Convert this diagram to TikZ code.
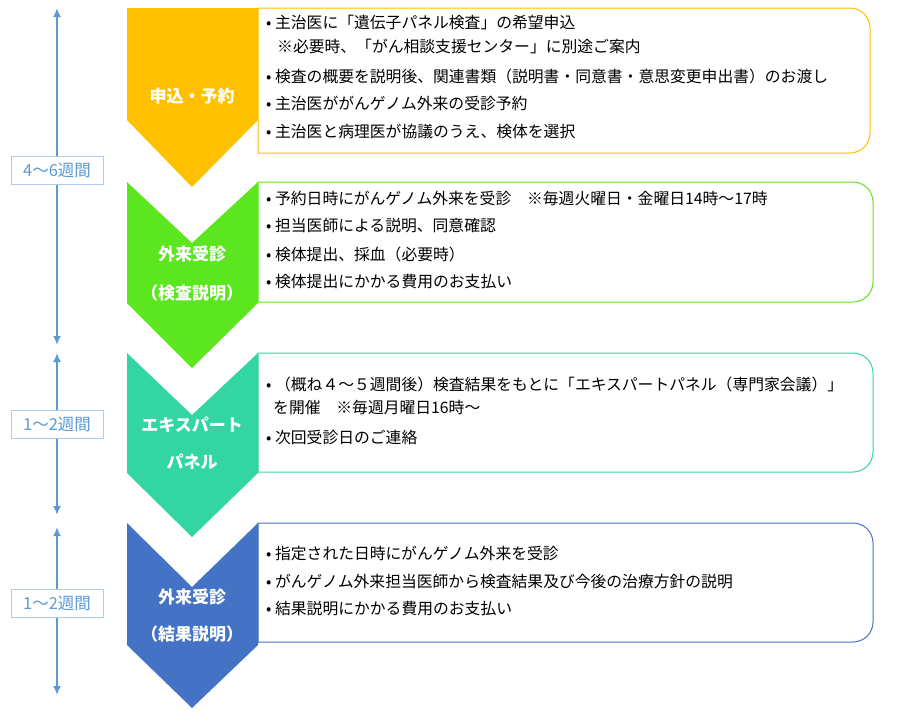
\documentclass[tikz,border=0pt]{standalone}
\usepackage{fontspec}
\setmainfont{Noto Sans CJK JP}
\usetikzlibrary{arrows.meta}
\definecolor{cy}{HTML}{FFC000}
\definecolor{cg}{HTML}{5BE620}
\definecolor{ct}{HTML}{33D6A2}
\definecolor{cb}{HTML}{4472C4}
\definecolor{ca}{HTML}{5B9BD5}
\tikzset{
 chev/.style={fill=#1,draw=none},
 cbox/.style={draw=#1,line width=1pt,fill=white},
 ctext/.style={text=white,font=\fontsize{17}{20}\selectfont\bfseries},
 item/.style={anchor=west,font=\fontsize{15.8}{18}\selectfont,inner sep=0pt},
 dur/.style={draw=ca!50,fill=white,text=ca,font=\fontsize{16.5}{19}\selectfont,minimum width=92pt,minimum height=28pt},
 darr/.style={ca,line width=2pt,{Latex[length=9pt,width=8pt]}-{Latex[length=9pt,width=8pt]}}
}
\begin{document}
\begin{tikzpicture}[x=1pt,y=-1pt]
\useasboundingbox (0,0) rectangle (912,726);
% boxes
\draw[cbox=cy] (258,8) -- (850,8) arc[start angle=270,end angle=360,radius=20] -- (870,133) arc[start angle=0,end angle=90,radius=20] -- (258,153) -- cycle;
\draw[cbox=cg] (258,182) -- (853,182) arc[start angle=270,end angle=360,radius=20] -- (873,282) arc[start angle=0,end angle=90,radius=20] -- (258,302) -- cycle;
\draw[cbox=ct] (258,353) -- (853,353) arc[start angle=270,end angle=360,radius=20] -- (873,452) arc[start angle=0,end angle=90,radius=20] -- (258,472) -- cycle;
\draw[cbox=cb] (258,523) -- (853,523) arc[start angle=270,end angle=360,radius=20] -- (873,622) arc[start angle=0,end angle=90,radius=20] -- (258,642) -- cycle;
% chevrons
\fill[chev=cy] (127,8) -- (258,8) -- (258,120) -- (192,187) -- (127,120) -- cycle;
\fill[chev=cg] (127,182) -- (192,243) -- (258,182) -- (258,303) -- (192,368) -- (127,303) -- cycle;
\fill[chev=ct] (127,353) -- (192,415) -- (258,353) -- (258,473) -- (192,537) -- (127,473) -- cycle;
\fill[chev=cb] (127,523) -- (192,587) -- (258,523) -- (258,645) -- (192,708) -- (127,645) -- cycle;
\node[ctext] (l1) at (192,96) {申込・予約};
\node[ctext] (l2a) at (192,254) {外来受診};
\node[ctext] (l2b) at (192,293) {（検査説明）};
\node[ctext] (l3a) at (192,425) {エキスパート};
\node[ctext] (l3b) at (192,462) {パネル};
\node[ctext] (l4a) at (192,597) {外来受診};
\node[ctext] (l4b) at (192,634) {（結果説明）};
% items
\node[item] (a1) at (266,22) {• 主治医に「遺伝子パネル検査」の希望申込};
\node[item] (a2) at (277,46) {※必要時、「がん相談支援センター」に別途ご案内};
\node[item] (a3) at (266,76) {• 検査の概要を説明後、関連書類（説明書・同意書・意思変更申出書）のお渡し};
\node[item] (a4) at (266,103) {• 主治医ががんゲノム外来の受診予約};
\node[item] (a5) at (266,132) {• 主治医と病理医が協議のうえ、検体を選択};
\node[item] (b1) at (266,198) {• 予約日時にがんゲノム外来を受診　※毎週火曜日・金曜日14時〜17時};
\node[item] (b2) at (266,226) {• 担当医師による説明、同意確認};
\node[item] (b3) at (266,254) {• 検体提出、採血（必要時）};
\node[item] (b4) at (266,282) {• 検体提出にかかる費用のお支払い};
\node[item] (c1) at (266,384) {• （概ね４〜５週間後）検査結果をもとに「エキスパートパネル（専門家会議）」};
\node[item] (c2) at (273,408) {を開催　※毎週月曜日16時〜};
\node[item] (c3) at (266,437) {• 次回受診日のご連絡};
\node[item] (d1) at (266,553) {• 指定された日時にがんゲノム外来を受診};
\node[item] (d2) at (266,581) {• がんゲノム外来担当医師から検査結果及び今後の治療方針の説明};
\node[item] (d3) at (266,609) {• 結果説明にかかる費用のお支払い};
% durations
\coordinate (t1) at (57,8); \coordinate (e1) at (57,345);
\coordinate (t2) at (57,353); \coordinate (e2) at (57,515);
\coordinate (t3) at (57,527); \coordinate (e3) at (57,695);
\draw[darr] (t1) -- (e1);
\draw[darr] (t2) -- (e2);
\draw[darr] (t3) -- (e3);
\node[dur] (w1) at (57,170) {4〜6週間};
\node[dur] (w2) at (57,424) {1〜2週間};
\node[dur] (w3) at (57,603) {1〜2週間};
\end{tikzpicture}
\end{document}
